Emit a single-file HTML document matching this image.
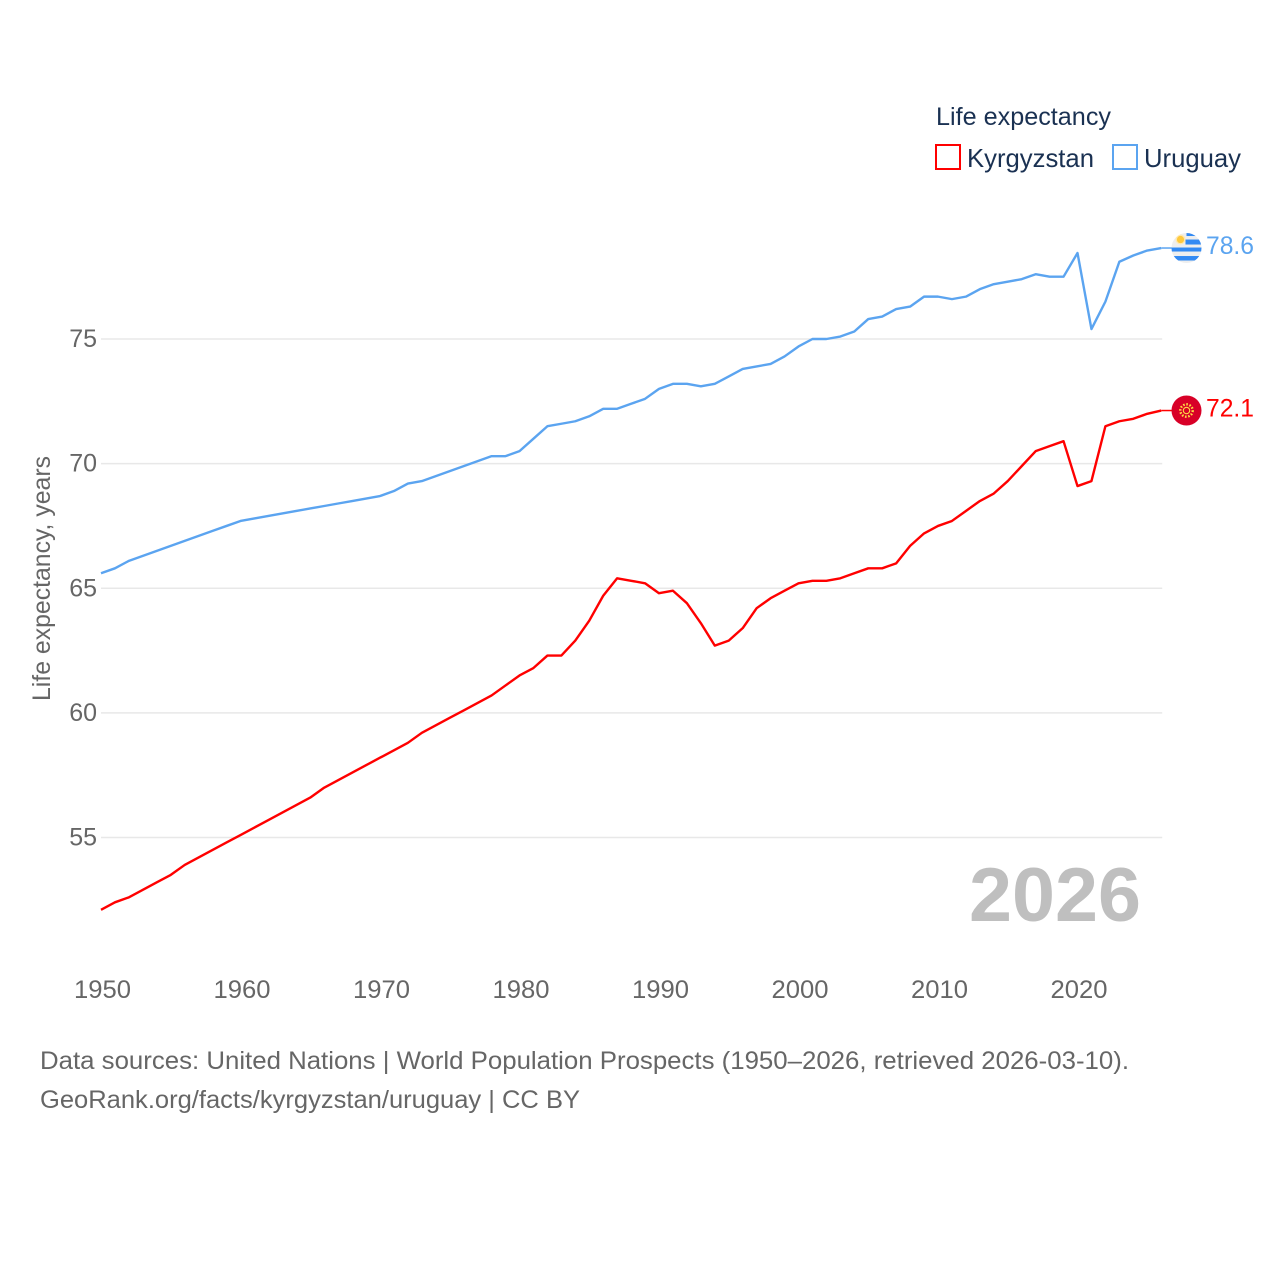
<!DOCTYPE html>
<html lang="en">
<head>
<meta charset="utf-8">
<title>Life expectancy: Kyrgyzstan and Uruguay</title>
<style>
html,body{margin:0;padding:0;background:#fff;width:1280px;height:1280px;overflow:hidden}
svg{display:block;font-family:"Liberation Sans",sans-serif}
</style>
</head>
<body>
<svg id="chart" xmlns="http://www.w3.org/2000/svg" width="1280" height="1280" viewBox="0 0 1280 1280">
  <defs>
    <clipPath id="flag-clip"><circle cx="0" cy="0" r="15"></circle></clipPath>
  </defs>
  <g id="grid"></g>
  <g id="yticks"></g>
  <g id="xticks"></g>
  <text transform="translate(50,701) rotate(-90)" font-size="25" fill="#666666" textLength="245" lengthAdjust="spacingAndGlyphs">Life expectancy, years</text>
  <g id="series"></g>

  <g id="flag-uruguay">
    <g clip-path="url(#flag-clip)">
      <rect x="-15" y="-15" width="30" height="30" fill="#eeeeee"></rect>
      <rect x="0" y="-15" width="15" height="3" fill="#338af3"></rect>
      <rect x="-1" y="-8.5" width="16" height="5" fill="#338af3"></rect>
      <rect x="-15" y="-0.5" width="30" height="4" fill="#338af3"></rect>
      <rect x="-15" y="8" width="30" height="4.5" fill="#338af3"></rect>
      <circle cx="-6" cy="-8.5" r="5" fill="#ffe9b0"></circle>
      <circle cx="-6" cy="-8.5" r="3.6" fill="#ffc93c"></circle>
    </g>
  </g>

  <g id="flag-kyrgyzstan">
    <g clip-path="url(#flag-clip)">
      <rect x="-15" y="-15" width="30" height="30" fill="#d80027"></rect>
      <circle cx="0" cy="0" r="6.2" fill="none" stroke="#ffda44" stroke-width="2.4" stroke-dasharray="1.6 1.6"></circle>
      <circle cx="0" cy="0" r="3.2" fill="none" stroke="#ffda44" stroke-width="1.1"></circle>
    </g>
  </g>

  <text id="label-uruguay" x="1206" font-size="25" fill="#5ba4f0" textLength="48" lengthAdjust="spacingAndGlyphs">78.6</text>
  <text id="label-kyrgyzstan" x="1206" font-size="25" fill="#ff0000" textLength="48" lengthAdjust="spacingAndGlyphs">72.1</text>

  <text x="969" y="921" font-size="76" font-weight="700" fill="#bfbfbf" textLength="172" lengthAdjust="spacingAndGlyphs">2026</text>

  <g>
    <text x="936" y="125" font-size="25" fill="#1a3152" textLength="175" lengthAdjust="spacingAndGlyphs">Life expectancy</text>
    <g>
      <rect x="936" y="145" width="24" height="24" fill="#ffffff" stroke="#ff0000" stroke-width="2"></rect>
      <text x="967" y="167" font-size="26" fill="#1a3152" textLength="127" lengthAdjust="spacingAndGlyphs">Kyrgyzstan</text>
    </g>
    <g>
      <rect x="1113" y="145" width="24" height="24" fill="#ffffff" stroke="#5ba4f0" stroke-width="2"></rect>
      <text x="1144" y="167" font-size="26" fill="#1a3152" textLength="97" lengthAdjust="spacingAndGlyphs">Uruguay</text>
    </g>
  </g>

  <text x="40" y="1069" font-size="25" fill="#666666" textLength="1089" lengthAdjust="spacingAndGlyphs">Data sources: United Nations | World Population Prospects (1950–2026, retrieved 2026-03-10).</text>
  <text x="40" y="1108" font-size="25" fill="#666666" textLength="540" lengthAdjust="spacingAndGlyphs">GeoRank.org/facts/kyrgyzstan/uruguay | CC BY</text>
</svg>
<script>
const years = [1950,1951,1952,1953,1954,1955,1956,1957,1958,1959,1960,1961,1962,1963,1964,1965,1966,1967,1968,1969,1970,1971,1972,1973,1974,1975,1976,1977,1978,1979,1980,1981,1982,1983,1984,1985,1986,1987,1988,1989,1990,1991,1992,1993,1994,1995,1996,1997,1998,1999,2000,2001,2002,2003,2004,2005,2006,2007,2008,2009,2010,2011,2012,2013,2014,2015,2016,2017,2018,2019,2020,2021,2022,2023,2024,2025,2026];
const kyrgyzstan = [52.1,52.4,52.6,52.9,53.2,53.5,53.9,54.2,54.5,54.8,55.1,55.4,55.7,56.0,56.3,56.6,57.0,57.3,57.6,57.9,58.2,58.5,58.8,59.2,59.5,59.8,60.1,60.4,60.7,61.1,61.5,61.8,62.3,62.3,62.9,63.7,64.7,65.4,65.3,65.2,64.8,64.9,64.4,63.6,62.7,62.9,63.4,64.2,64.6,64.9,65.2,65.3,65.3,65.4,65.6,65.8,65.8,66.0,66.7,67.2,67.5,67.7,68.1,68.5,68.8,69.3,69.9,70.5,70.7,70.9,69.1,69.3,71.5,71.7,71.8,72.0,72.13];
const uruguay = [65.6,65.8,66.1,66.3,66.5,66.7,66.9,67.1,67.3,67.5,67.7,67.8,67.9,68.0,68.1,68.2,68.3,68.4,68.5,68.6,68.7,68.9,69.2,69.3,69.5,69.7,69.9,70.1,70.3,70.3,70.5,71.0,71.5,71.6,71.7,71.9,72.2,72.2,72.4,72.6,73.0,73.2,73.2,73.1,73.2,73.5,73.8,73.9,74.0,74.3,74.7,75.0,75.0,75.1,75.3,75.8,75.9,76.2,76.3,76.7,76.7,76.6,76.7,77.0,77.2,77.3,77.4,77.6,77.5,77.5,78.45,75.4,76.5,78.1,78.35,78.55,78.65];
const yTickValues = [55,60,65,70,75];
const xTickValues = [1950,1960,1970,1980,1990,2000,2010,2020];

const NS = 'http://www.w3.org/2000/svg';
const xScale = function (year) { return 101 + (year - 1950) * 13.95; };
const yScale = function (value) { return 339 + (75 - value) * 24.925; };
const PLOT_LEFT = xScale(1950);
const PLOT_RIGHT = xScale(2026);

const grid = document.getElementById('grid');
const yticks = document.getElementById('yticks');
const xticks = document.getElementById('xticks');
const series = document.getElementById('series');

yTickValues.forEach(function (value) {
  const y = yScale(value);
  const line = document.createElementNS(NS, 'line');
  
  
  line.setAttribute('x1', PLOT_LEFT);
  line.setAttribute('x2', PLOT_RIGHT + 1);
  line.setAttribute('y1', y);
  line.setAttribute('y2', y);
  line.setAttribute('stroke', '#e8e8e8');
  line.setAttribute('stroke-width', '1.5');
  grid.appendChild(line);

  const label = document.createElementNS(NS, 'text');
  
  
  label.setAttribute('x', 97);
  label.setAttribute('y', y + 8);
  label.setAttribute('text-anchor', 'end');
  label.setAttribute('font-size', '25');
  label.setAttribute('fill', '#666666');
  label.textContent = String(value);
  yticks.appendChild(label);
});

xTickValues.forEach(function (year) {
  const label = document.createElementNS(NS, 'text');
  
  
  label.setAttribute('x', xScale(year) + 1.5);
  label.setAttribute('y', 998);
  label.setAttribute('text-anchor', 'middle');
  label.setAttribute('font-size', '25');
  label.setAttribute('fill', '#666666');
  label.setAttribute('textLength', '57');
  label.setAttribute('lengthAdjust', 'spacingAndGlyphs');
  label.textContent = String(year);
  xticks.appendChild(label);
});

function drawSeries(values, color, lineName, connectorName, flagId, labelId) {
  const d = values.map(function (value, i) {
    return (i ? 'L' : 'M') + xScale(years[i]).toFixed(2) + ' ' + yScale(value).toFixed(2);
  }).join(' ');
  const path = document.createElementNS(NS, 'path');
  
  
  path.setAttribute('d', d);
  path.setAttribute('fill', 'none');
  path.setAttribute('stroke', color);
  path.setAttribute('stroke-width', '2.4');
  path.setAttribute('stroke-linejoin', 'round');
  series.appendChild(path);

  const lastY = yScale(values[values.length - 1]);
  const connector = document.createElementNS(NS, 'line');
  
  
  connector.setAttribute('x1', PLOT_RIGHT);
  connector.setAttribute('x2', PLOT_RIGHT + 12);
  connector.setAttribute('y1', lastY);
  connector.setAttribute('y2', lastY);
  connector.setAttribute('stroke', color);
  connector.setAttribute('stroke-width', '1.5');
  series.appendChild(connector);

  document.getElementById(flagId).setAttribute('transform', 'translate(1186.5,' + lastY.toFixed(2) + ')');
  document.getElementById(labelId).setAttribute('y', (lastY + 6).toFixed(2));
}

drawSeries(uruguay, '#5ba4f0', 'uruguay-line', 'uruguay-connector', 'flag-uruguay', 'label-uruguay');
drawSeries(kyrgyzstan, '#ff0000', 'kyrgyzstan-line', 'kyrgyzstan-connector', 'flag-kyrgyzstan', 'label-kyrgyzstan');
</script>
</body>
</html>
